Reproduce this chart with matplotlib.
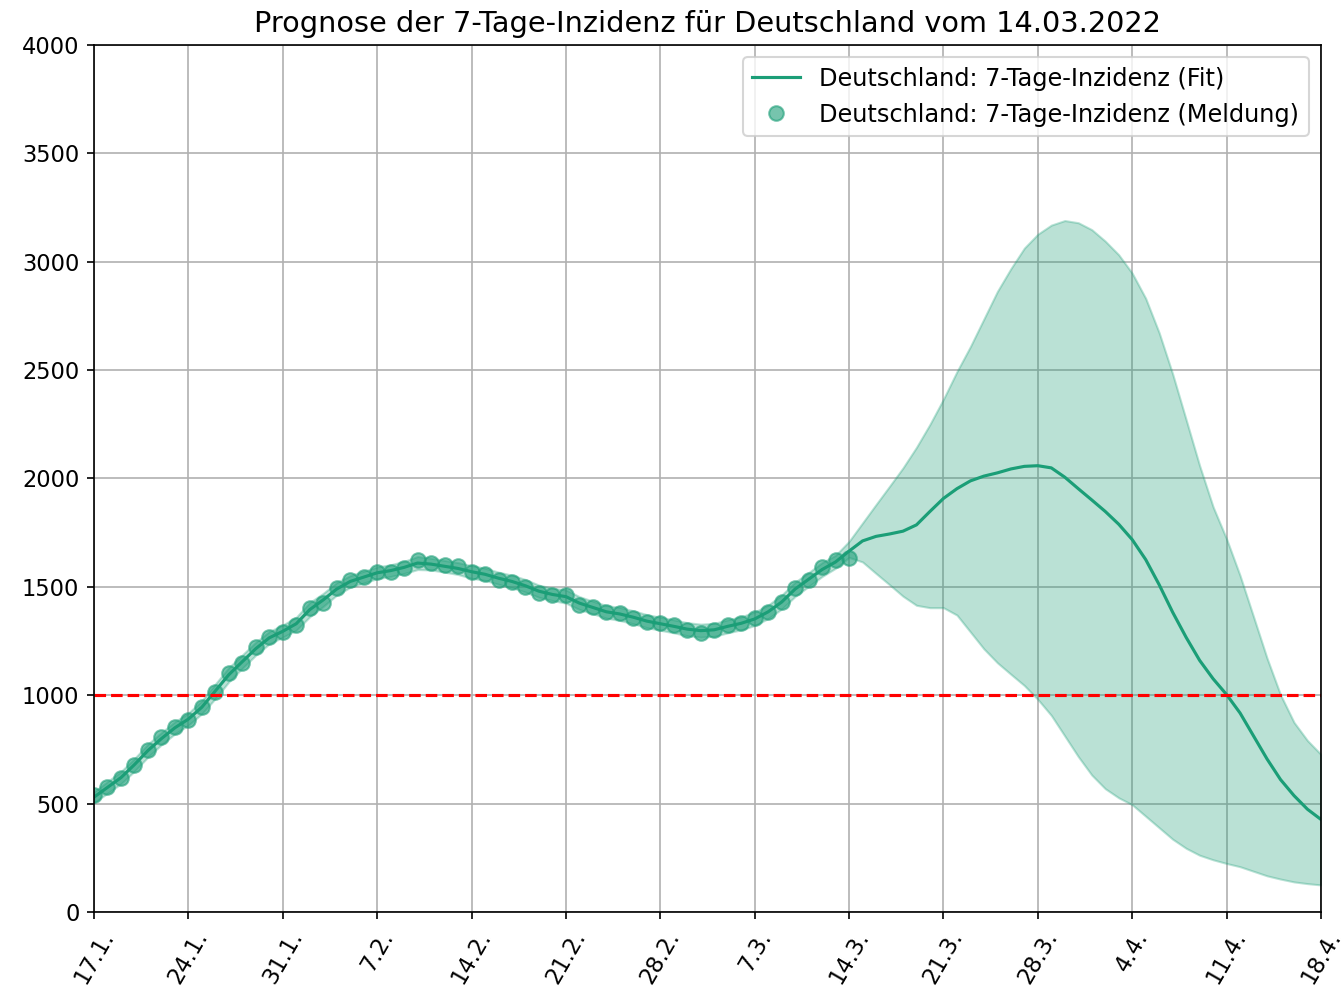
import numpy as np
import pandas as pd
import matplotlib
matplotlib.use("Agg")
import matplotlib.pyplot as plt

# reported 7-day incidence, daily from 17.01.2022 to 14.03.2022
meldung = [540, 577, 618, 678, 747, 807, 853, 886, 946, 1015,
           1101, 1149, 1223, 1269, 1292, 1324, 1402, 1426, 1495, 1532,
           1546, 1569, 1569, 1587, 1624, 1610, 1601, 1595, 1569, 1560,
           1532, 1523, 1500, 1472, 1463, 1463, 1416, 1407, 1384, 1380,
           1356, 1338, 1333, 1324, 1301, 1287, 1301, 1324, 1333, 1356,
           1384, 1430, 1495, 1532, 1592, 1624, 1633]

# fit, daily from 17.01.2022 to 18.04.2022
fit = [530, 575, 620, 680, 745, 800, 850, 890, 945, 1020,
       1095, 1155, 1215, 1265, 1295, 1330, 1395, 1440, 1490, 1525,
       1545, 1565, 1575, 1590, 1610, 1605, 1595, 1585, 1570, 1558,
       1540, 1525, 1505, 1480, 1465, 1455, 1425, 1405, 1385, 1375,
       1360, 1342, 1330, 1318, 1305, 1298, 1302, 1318, 1332, 1352,
       1385, 1430, 1490, 1535, 1580, 1615, 1665,
       1712, 1733, 1744, 1757, 1786, 1848, 1908, 1953, 1989, 2011,
       2026, 2044, 2056, 2059, 2049, 2006, 1953, 1901, 1848, 1789,
       1718, 1626, 1510, 1383, 1267, 1161, 1076, 1003, 918, 812,
       706, 611, 537, 474, 427]

fit_lo = [505, 548, 592, 650, 715, 772, 822, 862, 915, 985,
          1062, 1125, 1185, 1237, 1268, 1300, 1362, 1410, 1462, 1498,
          1518, 1538, 1548, 1562, 1580, 1578, 1568, 1557, 1540, 1530,
          1512, 1496, 1476, 1452, 1437, 1425, 1396, 1376, 1356, 1345,
          1330, 1312, 1300, 1288, 1275, 1268, 1272, 1288, 1302, 1322,
          1354, 1398, 1456, 1502, 1548, 1586, 1636,
          1615, 1562, 1510, 1457, 1415, 1404, 1404, 1370, 1292, 1214,
          1150, 1097, 1045, 981, 907, 812, 717, 632, 569, 527,
          495, 442, 389, 336, 294, 262, 241, 224, 209, 188,
          167, 152, 139, 131, 125]

fit_hi = [555, 602, 648, 708, 775, 828, 878, 918, 975, 1052,
          1128, 1186, 1245, 1294, 1324, 1360, 1428, 1470, 1520, 1552,
          1572, 1592, 1602, 1618, 1640, 1632, 1622, 1612, 1598, 1586,
          1568, 1554, 1534, 1508, 1494, 1486, 1455, 1434, 1414, 1405,
          1390, 1372, 1360, 1348, 1335, 1328, 1332, 1348, 1362, 1384,
          1416, 1462, 1522, 1566, 1612, 1646, 1710,
          1795, 1880, 1964, 2049, 2144, 2250, 2366, 2493, 2609, 2736,
          2863, 2968, 3063, 3127, 3169, 3190, 3180, 3148, 3095, 3032,
          2947, 2831, 2672, 2482, 2271, 2059, 1869, 1721, 1552, 1362,
          1171, 1002, 875, 791, 727]

tick_labels = ["17.1.", "24.1.", "31.1.", "7.2.", "14.2.", "21.2.", "28.2.",
               "7.3.", "14.3.", "21.3.", "28.3.", "4.4.", "11.4.", "18.4."]

days_fit = pd.date_range("2022-01-17", periods=len(fit), freq="D")
days_meld = days_fit[:len(meldung)]
ticks = pd.date_range("2022-01-17", periods=len(tick_labels), freq="7D")

col = "#1b9e77"
plt.rcParams["font.size"] = 11.5
plt.rcParams["xtick.labelsize"] = 10.8
plt.rcParams["ytick.labelsize"] = 10.8

fig = plt.figure(figsize=(1343 / 150, 995 / 150), dpi=150)
ax = fig.add_axes([0.070, 0.0834, 0.9136, 0.8714])

ax.fill_between(days_fit, fit_lo, fit_hi, color=col, alpha=0.3)
ax.plot(days_fit, fit, color=col, label="Deutschland: 7-Tage-Inzidenz (Fit)")
ax.plot(days_meld, meldung, "o", color=col, alpha=0.6, markersize=7,
        label="Deutschland: 7-Tage-Inzidenz (Meldung)")
ax.axhline(1000, color="red", linestyle="--")

ax.set_xlim(days_fit[0], days_fit[-1])
ax.set_ylim(0, 4000)
ax.set_yticks(np.arange(0, 4001, 500))
ax.set_xticks(ticks)
ax.set_xticklabels(tick_labels, rotation=60)
ax.grid(True)
ax.set_axisbelow(True)
ax.set_title("Prognose der 7-Tage-Inzidenz für Deutschland vom 14.03.2022",
             fontsize=13.8)
ax.legend(loc="upper right")

fig.savefig("out.png", dpi=150)
